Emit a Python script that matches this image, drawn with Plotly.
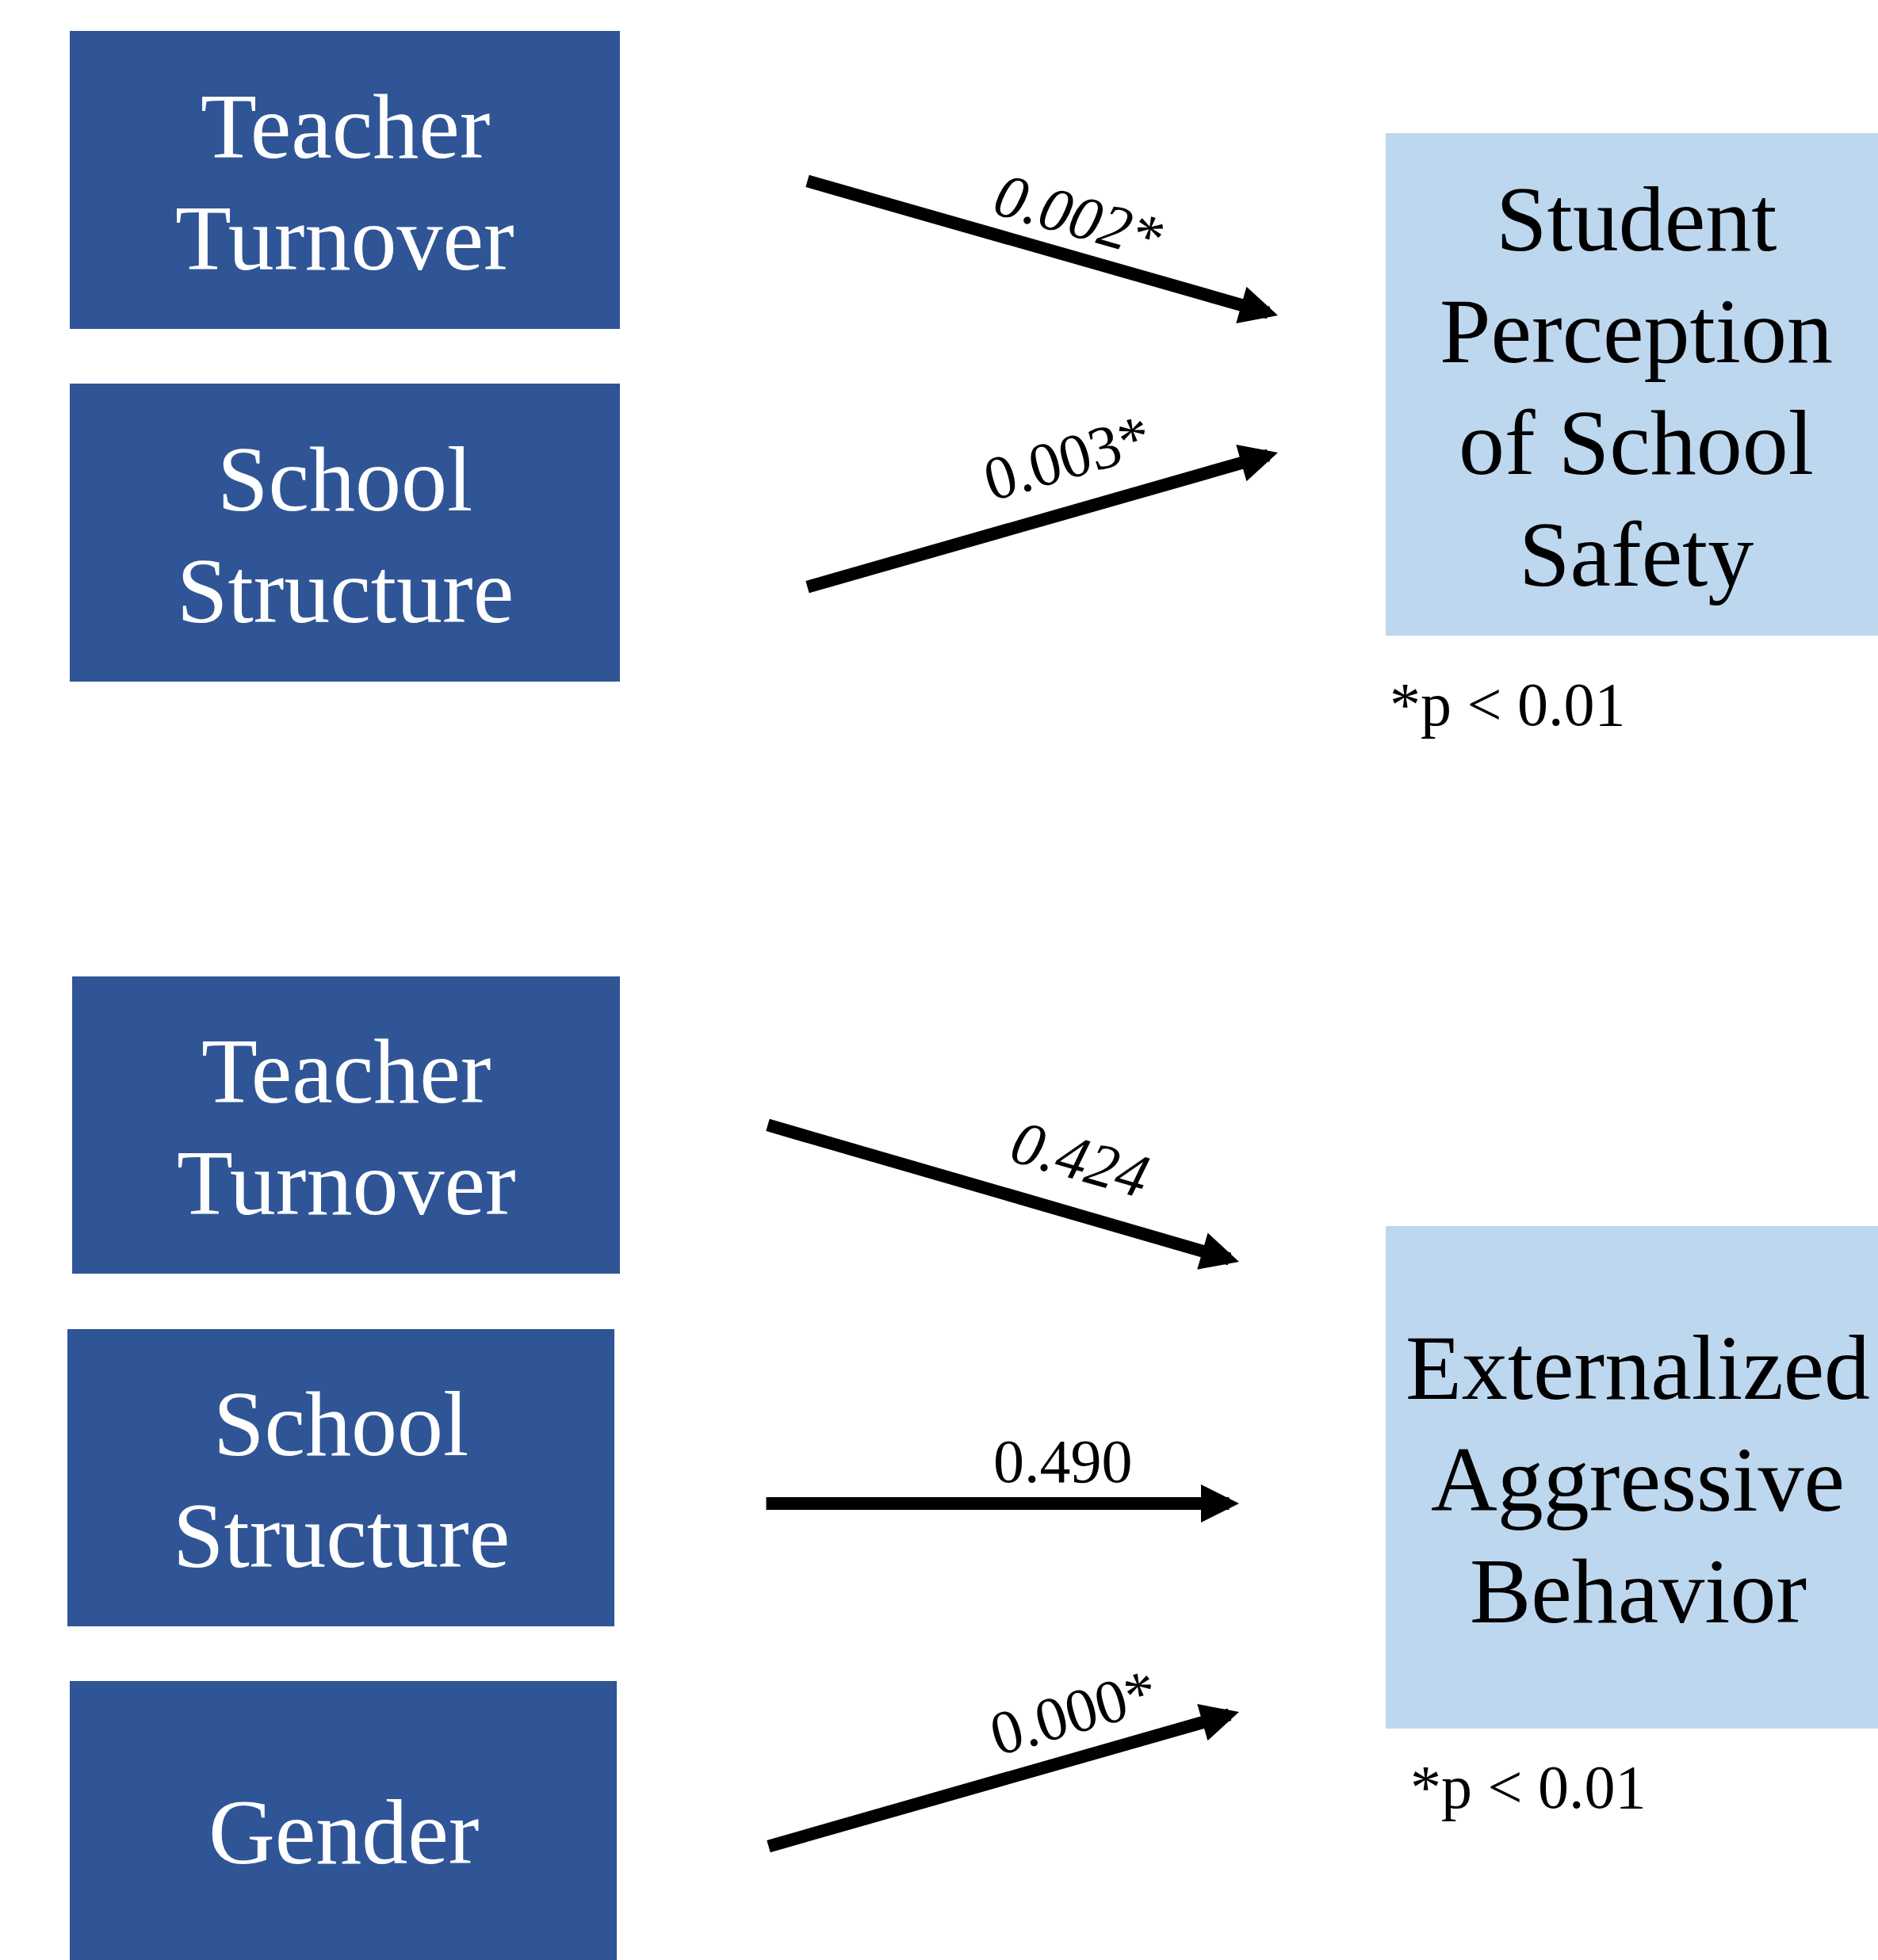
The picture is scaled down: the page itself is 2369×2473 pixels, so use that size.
import plotly.graph_objects as go

# ---------------- data ----------------
top_predictors = [["Teacher", "Turnover"], ["School", "Structure"]]
top_outcome = ["Student", "Perception", "of School", "Safety"]
top_coefs = ["0.002*", "0.003*"]
top_coef_italic = [True, False]

bottom_predictors = [["Teacher", "Turnover"], ["School", "Structure"], ["Gender"]]
bottom_outcome = ["Externalized", "Aggressive", "Behavior"]
bottom_coefs = ["0.424", "0.490", "0.000*"]
bottom_coef_italic = [True, False, False]

note_text = "*p < 0.01"

# ---------------- layout (pixel coordinates) ----------------
W, H = 2369, 2473
DARK = "#2F5597"
LIGHT = "#BDD7EE"
FONT = "Liberation Serif"
BOX_FS = 116
LINE_SP = 141
COEF_FS = 78

top_pred_boxes = [(88, 39, 782, 415), (88, 484, 782, 860)]
top_out_box = (1748, 168, 2400, 802)
bottom_pred_boxes = [(91, 1232, 782, 1607), (85, 1677, 775, 2052), (88, 2121, 778, 2500)]
bottom_out_box = (1748, 1547, 2400, 2181)

top_arrows = [((1017, 228), (1612, 398)), ((1017, 741), (1612, 571))]
bottom_arrows = [((967, 1419), (1563, 1592)), ((965, 1897), (1563, 1897)), ((968, 2330), (1563, 2160))]

top_coef_pos = [(1360, 272, 16), (1346, 577, -16)]
bottom_coef_pos = [(1363, 1462, 16), (1341, 1843, 0), (1354, 2160, -16)]

top_note = (1751, 915)
bottom_note = (1777, 2281)

fig = go.Figure()
shapes = []
annotations = []


def add_box(box, color, lines, text_color, cx=None, baselines=None):
    x0, y0, x1, y1 = box
    shapes.append(dict(type="rect", xref="x", yref="y", x0=x0, y0=y0, x1=x1, y1=y1,
                       fillcolor=color, line=dict(width=0), layer="below"))
    if cx is None:
        cx = (x0 + x1) / 2
    n = len(lines)
    if baselines is None:
        yc = (y0 + y1) / 2
        mean_base = yc + 42.5
        baselines = [mean_base + (i - (n - 1) / 2) * LINE_SP for i in range(n)]
    for line, b in zip(lines, baselines):
        annotations.append(dict(x=cx, y=b - 0.3375 * BOX_FS, xref="x", yref="y", text=line,
                                showarrow=False, xanchor="center", yanchor="middle",
                                font=dict(family=FONT, size=BOX_FS, color=text_color)))


for box, lines in zip(top_pred_boxes, top_predictors):
    add_box(box, DARK, lines, "white")
add_box(top_out_box, LIGHT, top_outcome, "black", cx=2064)

for box, lines in zip(bottom_pred_boxes, bottom_predictors):
    if len(lines) == 1:
        add_box(box, DARK, lines, "white", baselines=[2351])
    else:
        add_box(box, DARK, lines, "white")
add_box(bottom_out_box, LIGHT, bottom_outcome, "black", cx=2066)


def add_arrows(arrows, coefs, italics, positions):
    for (tail, tip), c, it, (lx, ly, ang) in zip(arrows, coefs, italics, positions):
        annotations.append(dict(x=tip[0], y=tip[1], ax=tail[0], ay=tail[1],
                                xref="x", yref="y", axref="x", ayref="y",
                                text="", showarrow=True, arrowhead=2, arrowsize=0.6,
                                arrowwidth=16, arrowcolor="black", standoff=0, startstandoff=0))
        txt = f"<i>{c}</i>" if it else c
        annotations.append(dict(x=lx, y=ly, xref="x", yref="y", text=txt, showarrow=False,
                                textangle=ang, xanchor="center", yanchor="middle",
                                font=dict(family=FONT, size=COEF_FS, color="black")))


add_arrows(top_arrows, top_coefs, top_coef_italic, top_coef_pos)
add_arrows(bottom_arrows, bottom_coefs, bottom_coef_italic, bottom_coef_pos)

for (nx, nb) in [top_note, bottom_note]:
    annotations.append(dict(x=nx, y=nb - 0.3375 * COEF_FS, xref="x", yref="y", text=note_text,
                            showarrow=False, xanchor="left", yanchor="middle",
                            font=dict(family=FONT, size=COEF_FS, color="black")))

fig.update_layout(
    width=W, height=H,
    margin=dict(l=0, r=0, t=0, b=0, pad=0),
    paper_bgcolor="white", plot_bgcolor="white",
    xaxis=dict(range=[0, W], visible=False, fixedrange=True),
    yaxis=dict(range=[H, 0], visible=False, fixedrange=True),
    shapes=shapes, annotations=annotations, showlegend=False,
)
fig.write_html(
    "out.html",
    config={"displayModeBar": False},
    post_script="document.body.style.margin='0';document.body.style.overflow='hidden';"
                "document.documentElement.style.overflow='hidden';",
)
